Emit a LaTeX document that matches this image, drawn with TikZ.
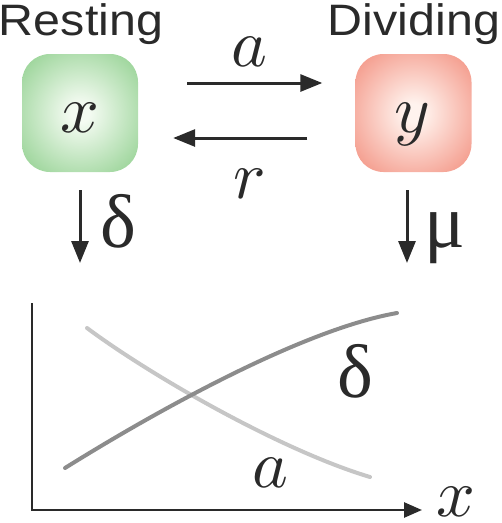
\documentclass[tikz,border=0pt]{standalone}
\usepackage{fontspec}
\setmainfont{Liberation Serif}
\newfontfamily\hvfont[FakeStretch=1.1]{Liberation Sans}
\DeclareFontFamily{OML}{cmm}{\skewchar\font'177}
\DeclareFontShape{OML}{cmm}{m}{it}{<->cmmi10}{}
\usetikzlibrary{arrows.meta}
\definecolor{ink}{HTML}{2A2A2A}
\definecolor{gin}{HTML}{F4FBF2}
\definecolor{gout}{HTML}{6CC06A}
\definecolor{rin}{HTML}{FFF3EE}
\definecolor{rout}{HTML}{EE6C57}
\definecolor{darkcurve}{HTML}{8C8C8C}
\definecolor{lightcurve}{HTML}{C6C6C6}
\pgfdeclareradialshading{greenshade}{\pgfpoint{0bp}{0bp}}{color(0bp)=(gin); color(4bp)=(gin); color(47bp)=(gout); color(75bp)=(gout)}
\pgfdeclareradialshading{redshade}{\pgfpoint{0bp}{0bp}}{color(0bp)=(rin); color(4bp)=(rin); color(47bp)=(rout); color(75bp)=(rout)}
\newcommand\lblsans{\hvfont\fontsize{44}{50}\selectfont}
\newcommand\lblit{\fontsize{68}{74}\selectfont}
\newcommand\lblup{\fontsize{76}{80}\selectfont}
\tikzset{
  txt/.style={anchor=base, inner sep=0pt, text=ink},
  cellbox/.style={rectangle, rounded corners=28pt, minimum width=116pt, minimum height=118pt, inner sep=0pt},
  arr/.style={draw=ink, line width=3pt, -{Triangle[length=22pt,width=17pt]}},
  axisline/.style={draw=ink, line width=2.6pt},
  curve/.style={line width=4pt, line cap=round}
}
\begin{document}
\begin{tikzpicture}[x=1pt,y=-1pt]
\useasboundingbox (0,0) rectangle (502,523);
% labels
\node[txt] (lres) at (81,35) {\lblsans Resting};
\node[txt] (ldiv) at (414,35) {\lblsans Dividing};
% boxes
\node[cellbox, shading=greenshade] (gx) at (80,113) {};
\node[cellbox, shading=redshade] (gy) at (413.5,113) {};
\node[txt] (tx) at (80,132) {\lblit $x$};
\node[txt] (ty) at (412,132) {\lblit $y$};
% transitions
\draw[arr, shorten <=49pt, shorten >=33pt] ([yshift=30pt]gx.east) -- ([yshift=30pt]gy.west);
\draw[arr, shorten <=48pt, shorten >=35pt] ([yshift=-25pt]gy.west) -- ([yshift=-25pt]gx.east);
\node[txt] (la) at (249,66) {\lblit $a$};
\node[txt] (lr) at (250,198) {\lblit $r$};
% death arrows
\coordinate (dx) at (80,263);
\coordinate (dy) at (407,263);
\draw[arr, shorten <=18pt] (gx.south) -- (dx);
\draw[arr, shorten <=18pt] ([xshift=-6.5pt]gy.south) -- (dy);
\node[txt] (ld) at (118,247) {\lblup δ};
\node[txt] (lm) at (445,247) {\lblup μ};
% graph
\coordinate (ytop) at (32,303);
\coordinate (orig) at (32,510);
\coordinate (xend) at (422,510);
\draw[axisline, -{Triangle[length=18pt,width=15pt]}] (ytop) -- (orig) -- (xend);
\node[txt] (lx) at (456,516) {\lblit $x$};
\draw[curve, lightcurve] (87,328) .. controls (150,375) and (280,450) .. (370,477);
\draw[curve, darkcurve] (65,468) .. controls (150,415) and (300,330) .. (397,313);
\node[txt] (gd) at (355,397) {\lblup δ};
\node[txt] (ga) at (270,487) {\lblit $a$};
\end{tikzpicture}
\end{document}
